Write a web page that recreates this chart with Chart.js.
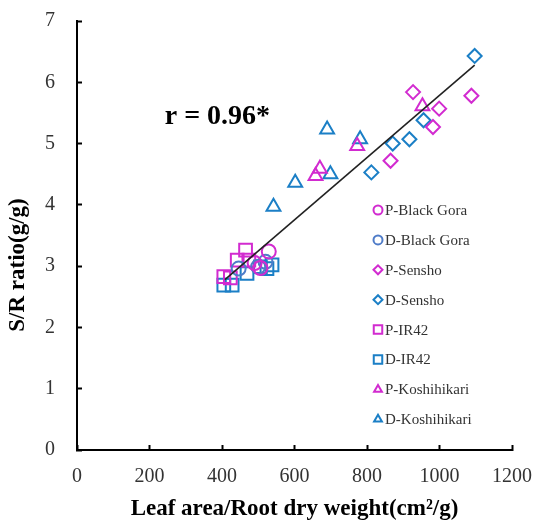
<!DOCTYPE html>
<html>
<head>
<meta charset="utf-8">
<script src="https://cdn.jsdelivr.net/npm/chart.js@4.4.0/dist/chart.umd.min.js"></script>
<style>
  html, body { margin: 0; padding: 0; background: #fff; }
  #wrap { width: 536px; height: 520px; }
</style>
</head>
<body>
<div id="wrap"><canvas id="myChart" width="536" height="520"></canvas></div>
<script>
// x = leaf area / root dry weight (cm2/g), y = S/R ratio (g/g)
const pBlackGoraX = [529, 506, 490];
const pBlackGoraY = [3.24, 2.97, 3.05];
const dBlackGoraX = [446, 520, 500];
const dBlackGoraY = [2.96, 3.07, 2.99];
const pSenshoX = [927, 1088, 999, 982, 865];
const pSenshoY = [5.84, 5.78, 5.57, 5.27, 4.72];
const dSenshoX = [1097, 956, 917, 871, 812];
const dSenshoY = [6.43, 5.38, 5.07, 5.00, 4.53];
const pIR42X = [465, 442, 474, 405, 423];
const pIR42Y = [3.26, 3.10, 3.10, 2.83, 2.81];
const dIR42X = [405, 428, 469, 506, 524, 538];
const dIR42Y = [2.69, 2.69, 2.88, 2.99, 2.96, 3.02];
const pKoshiX = [953, 773, 670, 658];
const pKoshiY = [5.61, 4.96, 4.59, 4.47];
const dKoshiX = [690, 781, 699, 602, 542];
const dKoshiY = [5.23, 5.07, 4.50, 4.36, 3.97];

// fitted line y = a + b*x
const fitA = 0.707;
const fitB = 0.00508;
const fitRange = [408, 1097];

const xTicks = [0, 200, 400, 600, 800, 1000, 1200];
const yTicks = [0, 1, 2, 3, 4, 5, 6, 7];

const rText = 'r = 0.96*';
const rAt = [242, 5.32];

const MAG = '#d22bd0';
const BLUE = '#1b7fc6';
const BLUE2 = '#4f7cc8';
const SERIF = '"Liberation Serif", "Times New Roman", serif';

const series = [
  { label: 'P-Black Gora', x: pBlackGoraX, y: pBlackGoraY, color: MAG, style: 'circle', r: 7 },
  { label: 'D-Black Gora', x: dBlackGoraX, y: dBlackGoraY, color: BLUE2, style: 'circle', r: 7 },
  { label: 'P-Sensho', x: pSenshoX, y: pSenshoY, color: MAG, style: 'rectRot', r: 7 },
  { label: 'D-Sensho', x: dSenshoX, y: dSenshoY, color: BLUE, style: 'rectRot', r: 7 },
  { label: 'P-IR42', x: pIR42X, y: pIR42Y, color: MAG, style: 'rect', r: 9 },
  { label: 'D-IR42', x: dIR42X, y: dIR42Y, color: BLUE, style: 'rect', r: 9 },
  { label: 'P-Koshihikari', x: pKoshiX, y: pKoshiY, color: MAG, style: 'triangle', r: 8 },
  { label: 'D-Koshihikari', x: dKoshiX, y: dKoshiY, color: BLUE, style: 'triangle', r: 8 }
];

const zip = (xs, ys) => xs.map((v, i) => ({ x: v, y: ys[i] }));

const datasets = series.map(s => ({
  type: 'scatter',
  label: s.label,
  data: zip(s.x, s.y),
  pointStyle: s.style,
  pointRadius: s.r,
  borderColor: s.color,
  backgroundColor: 'rgba(0,0,0,0)',
  pointBorderWidth: 2,
  order: 1
}));

datasets.push({
  type: 'line',
  label: 'fit',
  data: fitRange.map(v => ({ x: v, y: fitA + fitB * v })),
  borderColor: '#222',
  borderWidth: 1.6,
  pointRadius: 0,
  fill: false,
  order: 0
});

// y title, r value and the legend box
const extras = {
  id: 'extras',
  afterDraw(chart) {
    const ctx = chart.ctx;
    const xs = chart.scales.x, ys = chart.scales.y;
    ctx.save();

    ctx.fillStyle = '#000';
    ctx.font = 'bold 23px ' + SERIF;
    ctx.textAlign = 'center';
    ctx.textBaseline = 'middle';
    ctx.translate(18, 265);
    ctx.rotate(-Math.PI / 2);
    ctx.fillText('S/R ratio(g/g)', 0, 0);
    ctx.setTransform(1, 0, 0, 1, 0, 0);

    ctx.font = 'bold 28px ' + SERIF;
    ctx.textAlign = 'left';
    ctx.textBaseline = 'alphabetic';
    ctx.fillText(rText, xs.getPixelForValue(rAt[0]), ys.getPixelForValue(rAt[1]));

    ctx.font = '15px ' + SERIF;
    ctx.textBaseline = 'middle';
    series.forEach((s, i) => {
      const ly = 210 + i * 29.9;
      ctx.strokeStyle = s.color;
      ctx.fillStyle = 'rgba(0,0,0,0)';
      ctx.lineWidth = 2;
      Chart.helpers.drawPoint(ctx, { pointStyle: s.style, radius: s.style === 'rect' ? 6 : 4.5, borderWidth: 2, rotation: 0 }, 378, ly);
      ctx.fillStyle = '#333';
      ctx.fillText(s.label, 385, ly + 1);
    });
    ctx.restore();
  }
};

// fixed axis boxes so the plot area sits at 77..512 x 21..450
const noOverflow = s => { s.paddingLeft = 0; s.paddingRight = 0; s.paddingTop = 0; s.paddingBottom = 0; };

new Chart(document.getElementById('myChart').getContext('2d'), {
  data: { datasets: datasets },
  options: {
    responsive: false,
    animation: false,
    layout: { padding: { top: 21, right: 24, left: 0, bottom: 0 } },
    plugins: { legend: { display: false }, tooltip: { enabled: false } },
    scales: {
      x: {
        type: 'linear',
        min: 0, max: 1200,
        afterBuildTicks: s => { s.ticks = xTicks.map(v => ({ value: v })); },
        afterFit: s => { s.height = 70; noOverflow(s); },
        border: { color: '#000', width: 2 },
        grid: { drawOnChartArea: false, tickLength: -5, tickColor: '#000', tickWidth: 2 },
        ticks: { color: '#333', font: { family: SERIF, size: 20 }, padding: 20, maxRotation: 0, callback: v => String(v) },
        title: { display: true, text: 'Leaf area/Root dry weight(cm²/g)', color: '#000', font: { family: SERIF, size: 23, weight: 'bold' }, padding: { top: 0, bottom: -3 } }
      },
      y: {
        type: 'linear',
        min: 0, max: 7,
        afterBuildTicks: s => { s.ticks = yTicks.map(v => ({ value: v })); },
        afterFit: s => { s.width = 77; noOverflow(s); },
        border: { color: '#000', width: 2 },
        grid: { drawOnChartArea: false, tickLength: -5, tickColor: '#000', tickWidth: 2 },
        ticks: { color: '#333', font: { family: SERIF, size: 20 }, padding: 27, callback: v => String(v) }
      }
    }
  },
  plugins: [extras]
});
</script>
</body>
</html>
